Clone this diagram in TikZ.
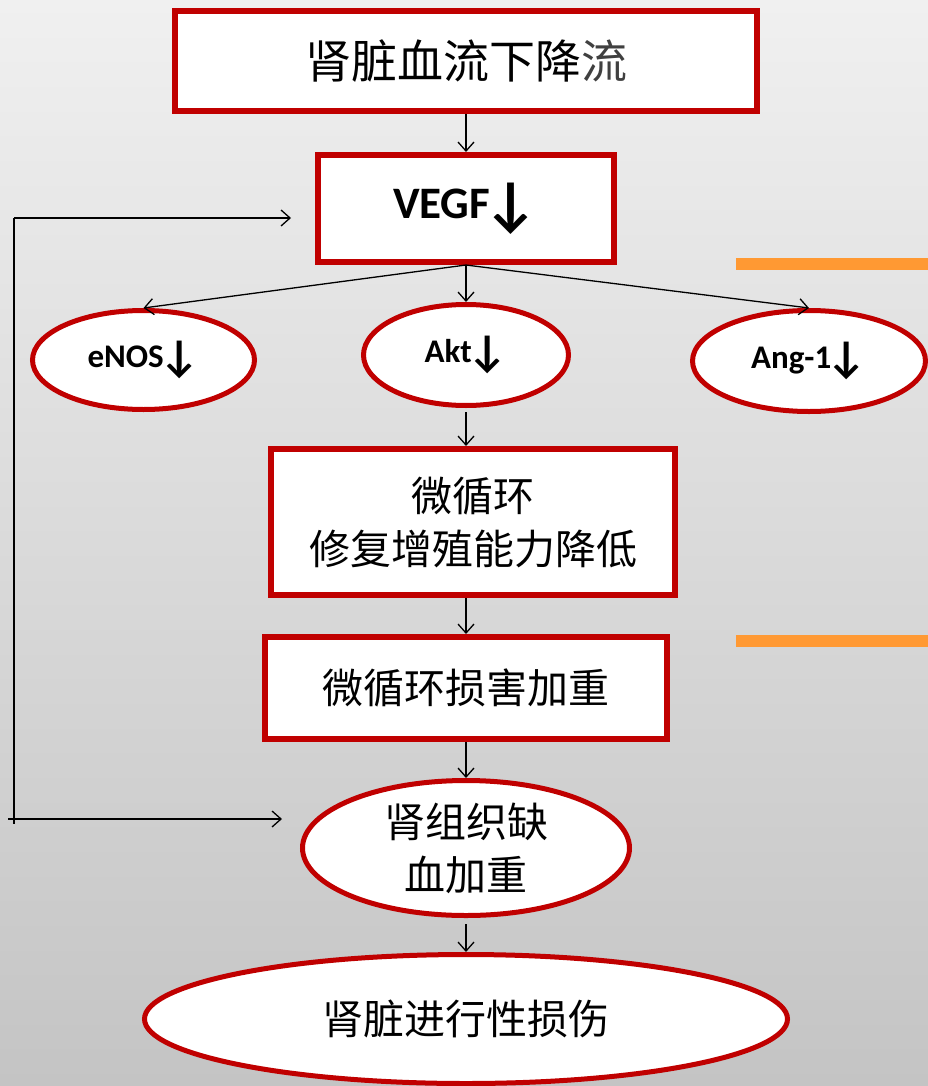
\documentclass[tikz,border=0pt]{standalone}
\usepackage{fontspec}
\newfontfamily\cjk{Noto Sans CJK SC}
\newfontfamily\lat{Carlito}
\usetikzlibrary{arrows.meta,shapes.geometric}
\definecolor{dred}{RGB}{192,0,0}
\definecolor{orbar}{RGB}{255,153,51}
\definecolor{bgtop}{RGB}{240,240,240}
\definecolor{bgbot}{RGB}{196,196,196}
\newcommand{\dnarr}{\kern-0.14em\raisebox{-0.12em}{\scalebox{1.35}{↓}}}
\tikzset{
  rbox/.style={draw=dred, line width=6pt, fill=white, rectangle, inner sep=0pt, align=center},
  rell/.style={draw=dred, line width=5pt, fill=white, ellipse, inner sep=0pt, align=center},
  arr/.style={-{Straight Barb[length=9pt,width=16pt]}, line width=1.3pt, black},
  fline/.style={line width=1.5pt, black},
  cjkA/.style={font=\cjk\fontsize{46}{56}\selectfont},
  cjkB/.style={font=\cjk\fontsize{41}{53}\selectfont},
  latA/.style={font=\lat\bfseries\fontsize{45}{50}\selectfont},
  latB/.style={font=\lat\bfseries\fontsize{33}{36}\selectfont},
}
\begin{document}
\begin{tikzpicture}[x=1pt,y=-1pt]
\shade[top color=bgtop, bottom color=bgbot] (0,0) rectangle (928,1086);
\useasboundingbox (0,0) rectangle (928,1086);
\fill[orbar] (736,258) rectangle (928,270);
\fill[orbar] (736,635) rectangle (928,647);

\node[rbox, cjkA, minimum width=582pt, minimum height=100pt] (b1) at (466,61) {肾脏血流下降{\color{black!75}流}};
\node[rbox, latA, minimum width=296pt, minimum height=107pt] (b2) at (466,208.5) {VEGF\dnarr};
\node[rell, latB, minimum width=222pt, minimum height=99pt] (enos) at (143.5,360) {eNOS\dnarr};
\node[rell, latB, minimum width=205pt, minimum height=101pt] (akt) at (466,355) {Akt\dnarr};
\node[rell, latB, minimum width=233pt, minimum height=101pt] (ang) at (809,361) {Ang-1\dnarr};
\node[rbox, cjkB, minimum width=404pt, minimum height=146pt] (b3) at (473,522) {微循环\\修复增殖能力降低};
\node[rbox, cjkB, minimum width=402pt, minimum height=102pt] (b4) at (466,688) {微循环损害加重};
\node[rell, cjkB, minimum width=327pt, minimum height=135pt] (e5) at (466,848) {肾组织缺\\血加重};
\node[rell, cjkB, minimum width=643pt, minimum height=129pt] (e6) at (466,1019) {肾脏进行性损伤};

\draw[arr] (b1.south) -- (b2.north);
\draw[arr] (b2.south) -- (enos.north);
\draw[arr] (b2.south) -- (akt.north);
\draw[arr] (b2.south) -- (ang.north);
\draw[arr, shorten <=4pt] (akt.south) -- (akt.south |- b3.north);
\draw[arr] (b4.north |- b3.south) -- (b4.north);
\draw[arr] (b4.south) -- (e5.north);
\draw[arr, shorten <=6pt] (e5.south) -- (e6.north);

\coordinate (fbtop) at (14,218);
\coordinate (fbend) at (14,824);
\coordinate (fbbot) at (8,819);
\draw[fline] (fbtop) -- (fbend);
\draw[arr, shorten >=24pt] (fbtop) -- (fbtop -| b2.west);
\draw[arr, shorten >=18pt] (fbbot) -- (fbbot -| e5.west);
\end{tikzpicture}
\end{document}
